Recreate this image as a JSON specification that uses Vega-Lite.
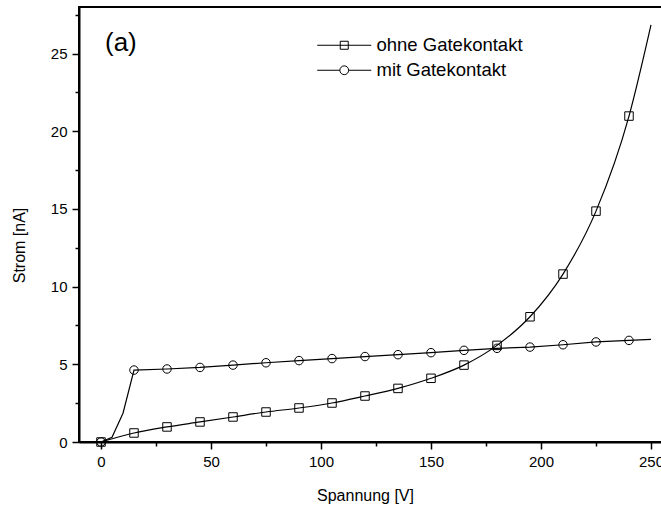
{
  "$schema": "https://vega.github.io/schema/vega-lite/v6.json",
  "width": 594,
  "height": 435,
  "autosize": "none",
  "padding": {"left": 79, "top": 7, "right": 0, "bottom": 67},
  "config": {
    "font": "Liberation Sans",
    "view": {"stroke": "black", "strokeWidth": 2}
  },
  "title": {
    "text": "(a)",
    "anchor": "start",
    "frame": "group",
    "orient": "top",
    "offset": 0,
    "dx": 26,
    "dy": 62,
    "baseline": "middle",
    "fontSize": 26,
    "fontWeight": "normal",
    "color": "black"
  },
  "data": {
    "values": [
      {"s": "ohne Gatekontakt", "V": 0, "I": 0, "m": 1},
      {"s": "ohne Gatekontakt", "V": 15, "I": 0.58, "m": 1},
      {"s": "ohne Gatekontakt", "V": 30, "I": 0.97, "m": 1},
      {"s": "ohne Gatekontakt", "V": 45, "I": 1.29, "m": 1},
      {"s": "ohne Gatekontakt", "V": 60, "I": 1.61, "m": 1},
      {"s": "ohne Gatekontakt", "V": 75, "I": 1.93, "m": 1},
      {"s": "ohne Gatekontakt", "V": 90, "I": 2.19, "m": 1},
      {"s": "ohne Gatekontakt", "V": 105, "I": 2.51, "m": 1},
      {"s": "ohne Gatekontakt", "V": 120, "I": 2.96, "m": 1},
      {"s": "ohne Gatekontakt", "V": 135, "I": 3.45, "m": 1},
      {"s": "ohne Gatekontakt", "V": 150, "I": 4.1, "m": 1},
      {"s": "ohne Gatekontakt", "V": 165, "I": 4.95, "m": 1},
      {"s": "ohne Gatekontakt", "V": 180, "I": 6.22, "m": 1},
      {"s": "ohne Gatekontakt", "V": 195, "I": 8.06, "m": 1},
      {"s": "ohne Gatekontakt", "V": 210, "I": 10.81, "m": 1},
      {"s": "ohne Gatekontakt", "V": 225, "I": 14.86, "m": 1},
      {"s": "ohne Gatekontakt", "V": 240, "I": 20.98, "m": 1},
      {"s": "ohne Gatekontakt", "V": 250, "I": 26.85, "m": 0},
      {"s": "mit Gatekontakt", "V": 0, "I": 0, "m": 1},
      {"s": "mit Gatekontakt", "V": 5, "I": 0.3, "m": 0},
      {"s": "mit Gatekontakt", "V": 10, "I": 1.85, "m": 0},
      {"s": "mit Gatekontakt", "V": 15, "I": 4.63, "m": 1},
      {"s": "mit Gatekontakt", "V": 30, "I": 4.7, "m": 1},
      {"s": "mit Gatekontakt", "V": 45, "I": 4.8, "m": 1},
      {"s": "mit Gatekontakt", "V": 60, "I": 4.95, "m": 1},
      {"s": "mit Gatekontakt", "V": 75, "I": 5.1, "m": 1},
      {"s": "mit Gatekontakt", "V": 90, "I": 5.24, "m": 1},
      {"s": "mit Gatekontakt", "V": 105, "I": 5.37, "m": 1},
      {"s": "mit Gatekontakt", "V": 120, "I": 5.5, "m": 1},
      {"s": "mit Gatekontakt", "V": 135, "I": 5.62, "m": 1},
      {"s": "mit Gatekontakt", "V": 150, "I": 5.75, "m": 1},
      {"s": "mit Gatekontakt", "V": 165, "I": 5.9, "m": 1},
      {"s": "mit Gatekontakt", "V": 180, "I": 6.03, "m": 1},
      {"s": "mit Gatekontakt", "V": 195, "I": 6.11, "m": 1},
      {"s": "mit Gatekontakt", "V": 210, "I": 6.26, "m": 1},
      {"s": "mit Gatekontakt", "V": 225, "I": 6.44, "m": 1},
      {"s": "mit Gatekontakt", "V": 240, "I": 6.54, "m": 1},
      {"s": "mit Gatekontakt", "V": 250, "I": 6.61, "m": 0}
    ]
  },
  "encoding": {
    "x": {
      "field": "V",
      "type": "quantitative",
      "scale": {"domain": [-10, 260], "nice": false, "zero": false},
      "axis": {
        "title": "Spannung [V]",
        "values": [0, 25, 50, 75, 100, 125, 150, 175, 200, 225, 250],
        "labelExpr": "datum.value % 50 === 0 ? datum.label : ''",
        "tickSize": {"condition": {"test": "datum.value % 50 === 0", "value": 7}, "value": 4},
        "grid": false,
        "domainColor": "black",
        "domainWidth": 2,
        "tickColor": "black",
        "tickWidth": 1.5,
        "labelColor": "black",
        "labelFontSize": 15,
        "labelPadding": 5,
        "labelFlush": false,
        "titleFontSize": 16,
        "titleFontWeight": "normal",
        "titleColor": "black",
        "titleX": 286,
        "titleY": 53,
        "titleBaseline": "middle",
        "titleAlign": "center"
      }
    },
    "y": {
      "field": "I",
      "type": "quantitative",
      "scale": {"domain": [0, 28], "nice": false},
      "axis": {
        "title": "Strom [nA]",
        "values": [0, 2.5, 5, 7.5, 10, 12.5, 15, 17.5, 20, 22.5, 25, 27.5],
        "labelExpr": "datum.value % 5 === 0 ? datum.label : ''",
        "tickSize": {"condition": {"test": "datum.value % 5 === 0", "value": 7}, "value": 4},
        "grid": false,
        "domainColor": "black",
        "domainWidth": 2,
        "tickColor": "black",
        "tickWidth": 1.5,
        "labelColor": "black",
        "labelFontSize": 15,
        "labelPadding": 5,
        "labelFlush": false,
        "titleFontSize": 16,
        "titleFontWeight": "normal",
        "titleColor": "black",
        "titleX": -60,
        "titleY": 238,
        "titleBaseline": "middle",
        "titleAlign": "center"
      }
    }
  },
  "layer": [
    {
      "transform": [{"filter": "datum.s === 'ohne Gatekontakt'"}],
      "mark": {"type": "line", "interpolate": "monotone", "color": "black", "strokeWidth": 1.2}
    },
    {
      "transform": [{"filter": "datum.s === 'mit Gatekontakt'"}],
      "mark": {"type": "line", "interpolate": "linear", "color": "black", "strokeWidth": 1.2}
    },
    {
      "transform": [{"filter": "datum.m === 1"}],
      "mark": {"type": "point", "filled": false, "color": "black", "strokeWidth": 1, "size": 72, "opacity": 1},
      "encoding": {
        "shape": {
          "field": "s",
          "type": "nominal",
          "scale": {"domain": ["ohne Gatekontakt", "mit Gatekontakt"], "range": ["square", "circle"]},
          "legend": null
        }
      }
    },
    {
      "transform": [{"filter": "datum.m === 7"}],
      "mark": {"type": "point", "filled": false, "color": "black", "strokeWidth": 1, "opacity": 1},
      "encoding": {
        "shape": {
          "field": "s",
          "type": "nominal",
          "scale": {
            "domain": ["ohne Gatekontakt", "mit Gatekontakt"],
            "range": ["M-6.75,0H6.75M-1,-1H1V1H-1Z", "M-6.75,0H-1.1M1.1,0H6.75M1.1,0A1.1,1.1,0,1,1,-1.1,0A1.1,1.1,0,1,1,1.1,0Z"]
          },
          "legend": {
            "title": null,
            "orient": "none",
            "legendX": 256,
            "legendY": 29,
            "padding": 0,
            "symbolOffset": 0,
            "symbolSize": 64,
            "symbolStrokeColor": "black",
            "symbolStrokeWidth": 1,
            "symbolFillColor": "transparent",
            "symbolOpacity": 1,
            "labelFontSize": 18.5,
            "labelColor": "black",
            "labelOffset": 23,
            "rowPadding": 6
          }
        }
      }
    }
  ],
  "resolve": {"scale": {"shape": "independent"}}
}
